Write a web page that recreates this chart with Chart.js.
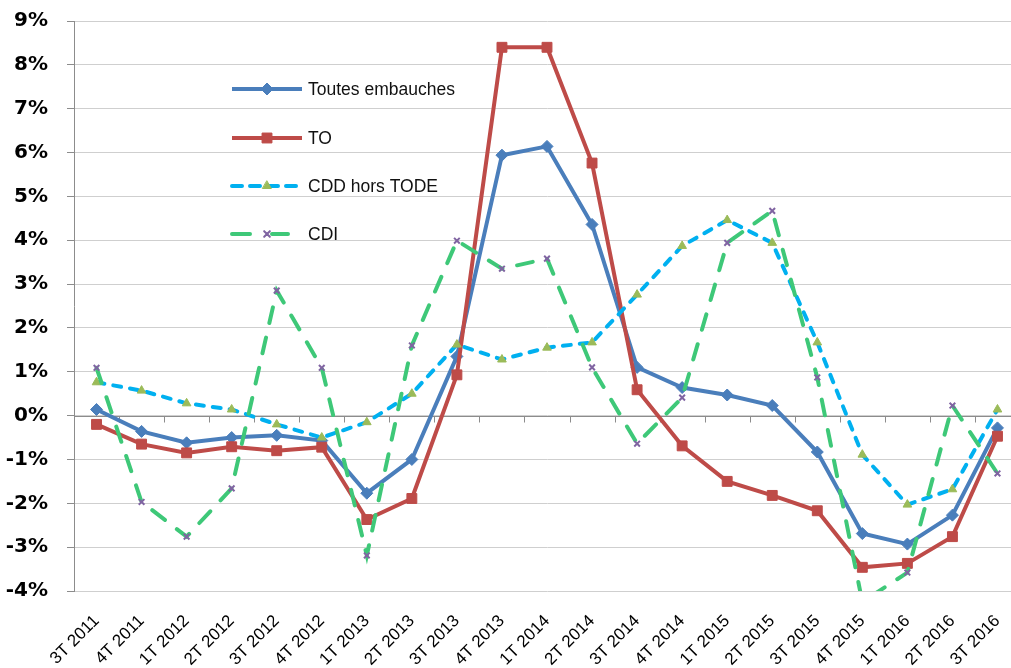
<!DOCTYPE html>
<html><head><meta charset="utf-8">
<script src="https://cdn.jsdelivr.net/npm/chart.js@4.4.1/dist/chart.umd.min.js"></script>
<style>
html,body{margin:0;padding:0;overflow:hidden;background:#fff;width:1011px;height:668px}
#wrap{position:absolute;left:0;top:0;width:1030px;height:668px}
</style>
</head><body><div id="wrap"><canvas id="c" width="1030" height="668"></canvas></div>
<script>
const categories = ["3T 2011","4T 2011","1T 2012","2T 2012","3T 2012","4T 2012","1T 2013","2T 2013","3T 2013","4T 2013","1T 2014","2T 2014","3T 2014","4T 2014","1T 2015","2T 2015","3T 2015","4T 2015","1T 2016","2T 2016","3T 2016"];
const seriesNames = ["Toutes embauches","TO","CDD hors TODE","CDI"];
const toutesEmbauches = [0.14,-0.36,-0.62,-0.50,-0.45,-0.57,-1.77,-1.00,1.35,5.94,6.14,4.36,1.10,0.64,0.47,0.23,-0.83,-2.69,-2.93,-2.27,-0.28];
const toValues = [-0.20,-0.65,-0.85,-0.71,-0.80,-0.72,-2.37,-1.89,0.93,8.40,8.40,5.76,0.59,-0.69,-1.50,-1.82,-2.17,-3.46,-3.37,-2.76,-0.47];
const cddHorsTode = [0.76,0.57,0.28,0.14,-0.20,-0.50,-0.15,0.50,1.62,1.28,1.55,1.67,2.76,3.87,4.46,3.94,1.67,-0.89,-2.03,-1.68,0.14];
const cdi = [1.09,-1.97,-2.76,-1.66,2.85,1.09,-3.19,1.60,3.99,3.35,3.58,1.10,-0.64,0.41,3.94,4.67,0.87,-4.25,-3.58,0.23,-1.32];
const yMin = -4, yMax = 9, yStep = 1;
const yTickLabel = v => v + "%";

const axisGray = "#8c8c8c";
const gridGray = "#cfcfcf";

const zeroAxisPlugin = {
  id: "zeroAxis",
  beforeDatasetsDraw(chart) {
    const {ctx, chartArea, scales} = chart;
    const y0 = Math.round(scales.y.getPixelForValue(0)) + 0.5;
    const step = scales.x.getPixelForValue(1) - scales.x.getPixelForValue(0);
    ctx.save();
    ctx.strokeStyle = axisGray;
    ctx.lineWidth = 1;
    ctx.beginPath();
    ctx.moveTo(chartArea.left, y0);
    ctx.lineTo(chartArea.right, y0);
    for (let i = 0; i < categories.length; i++) {
      const xx = Math.round(scales.x.getPixelForValue(i) + step / 2) + 0.5;
      ctx.moveTo(xx, y0);
      ctx.lineTo(xx, y0 + 6);
    }
    ctx.stroke();
    ctx.restore();
  }
};

const legendPlugin = {
  id: "insideLegend",
  afterDraw(chart) {
    const {ctx} = chart;
    const x0 = 232, x1 = 302, tx = 308;
    const rows = [89, 138, 186, 234];
    chart.data.datasets.forEach((ds, i) => {
      const y = rows[i];
      ctx.save();
      ctx.strokeStyle = ds.borderColor;
      ctx.lineWidth = ds.borderWidth;
      ctx.lineCap = ds.borderCapStyle || "butt";
      ctx.setLineDash(ds.legendDash || []);
      ctx.beginPath();
      if (ds.legendGap) {
        ctx.moveTo(x0, y); ctx.lineTo(x0 + 18, y);
        ctx.moveTo(x0 + 40, y); ctx.lineTo(x0 + 56, y);
      } else {
        ctx.moveTo(x0, y); ctx.lineTo(x1, y);
      }
      ctx.stroke();
      ctx.setLineDash([]);
      ctx.fillStyle = ds.pointBackgroundColor;
      ctx.strokeStyle = ds.pointBorderColor;
      ctx.lineWidth = ds.pointBorderWidth;
      const cx = ds.legendGap ? x0 + 35 : (x0 + x1) / 2;
      Chart.helpers.drawPoint(ctx, {pointStyle: ds.pointStyle, radius: ds.pointRadius, borderWidth: ds.pointBorderWidth, rotation: 0}, cx, y);
      ctx.fillStyle = "#111";
      ctx.font = "17.5px 'Liberation Sans', Arial, sans-serif";
      ctx.textBaseline = "middle";
      ctx.textAlign = "left";
      ctx.fillText(ds.label, tx, y + 1);
      ctx.restore();
    });
  }
};

new Chart(document.getElementById("c"), {
  type: "line",
  data: {
    labels: categories,
    datasets: [
      {label: seriesNames[0], data: toutesEmbauches, borderColor: "#4a7ebb", backgroundColor: "#4a7ebb",
       borderWidth: 4, pointStyle: "rectRot", pointRadius: 6, pointBackgroundColor: "#4a7ebb", pointBorderColor: "#4a7ebb",
       pointBorderWidth: 1, tension: 0, order: 4},
      {label: seriesNames[1], data: toValues, borderColor: "#be4b48", backgroundColor: "#be4b48",
       borderWidth: 4, pointStyle: "rect", pointRadius: 7, pointBackgroundColor: "#be4b48", pointBorderColor: "#be4b48",
       pointBorderWidth: 1, tension: 0, order: 3},
      {label: seriesNames[2], data: cddHorsTode, borderColor: "#00b0f0", backgroundColor: "#00b0f0",
       borderWidth: 4, borderDash: [8, 9], borderCapStyle: "round", legendDash: [10, 8],
       pointStyle: "triangle", pointRadius: 5, pointBackgroundColor: "#9bbb59", pointBorderColor: "#9bbb59",
       pointBorderWidth: 1, tension: 0, order: 2},
      {label: seriesNames[3], data: cdi, borderColor: "#3ec878", backgroundColor: "#3ec878",
       borderWidth: 4, borderDash: [16, 15], borderCapStyle: "round", legendGap: true, legendDash: [],
       pointStyle: "crossRot", pointRadius: 4, pointBackgroundColor: "#8064a2", pointBorderColor: "#8064a2",
       pointBorderWidth: 2, tension: 0, order: 1}
    ]
  },
  options: {
    responsive: false,
    animation: false,
    layout: {padding: {top: 21, right: 10, left: 0, bottom: 0}},
    plugins: {legend: {display: false}, tooltip: {enabled: false}},
    elements: {point: {hoverRadius: 0}},
    scales: {
      x: {
        offset: true,
        grid: {display: false, offset: true},
        border: {display: false},
        ticks: {
          color: "#000", autoSkip: false, minRotation: 45, maxRotation: 45, padding: 12,
          font: {family: "'Liberation Sans', Arial, sans-serif", size: 17}
        },
        afterFit(scale) { scale.height = 77; }
      },
      y: {
        min: yMin, max: yMax,
        grid: {color: gridGray, tickColor: axisGray, tickLength: 7},
        border: {display: true, color: axisGray},
        ticks: {
          stepSize: yStep, color: "#000", padding: 19,
          font: {family: "'DejaVu Sans', Verdana, sans-serif", size: 20, weight: "bold"},
          callback: v => yTickLabel(v)
        },
        afterFit(scale) { scale.width = 74; scale.paddingTop = 0; scale.paddingBottom = 0; }
      }
    }
  },
  plugins: [zeroAxisPlugin, legendPlugin]
});
</script>
</body></html>
